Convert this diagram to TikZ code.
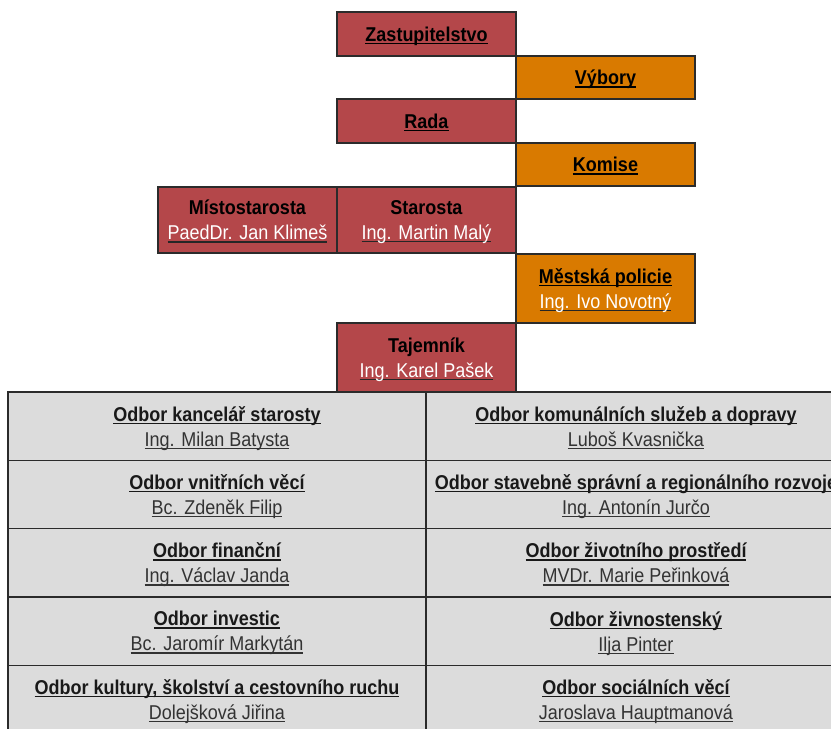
\documentclass[tikz,border=0pt]{standalone}
\usepackage{fontspec}
\setmainfont{Liberation Sans}[FakeStretch=0.9]
\usetikzlibrary{positioning}

\definecolor{radared}{HTML}{B4474A}
\definecolor{komiseorange}{HTML}{D97A00}
\definecolor{odborgray}{HTML}{DCDCDC}
\definecolor{rimline}{HTML}{2B2B2B}
\definecolor{nametext}{HTML}{333333}

\newsavebox\ulbox
% underlined text: [colour of the line]{text}
\newcommand\ulin[2][black]{\sbox\ulbox{#2}\rlap{\color{#1}\rule[-3pt]{\wd\ulbox}{1.5pt}}\usebox\ulbox}

\tikzset{
  organ/.style={draw=rimline, line width=1.3pt, inner sep=0pt, outer sep=0pt,
    minimum width=179pt, align=center, text depth=0pt,
    font=\fontsize{20}{25}\selectfont\bfseries},
  redbox/.style={organ, fill=radared},
  orangebox/.style={organ, fill=komiseorange},
  odbor/.style={draw=rimline, line width=1.3pt, fill=odborgray, inner sep=0pt,
    outer sep=0pt, minimum height=68.3pt, align=center, text depth=0pt,
    font=\fontsize{20}{25}\selectfont},
}
\newcommand\person[1]{\ulin[black!85]{\mdseries\color{white}#1}}
\newcommand\dept[2]{{\bfseries\color{black!90}\ulin[black!90]{#1}}\\\ulin[nametext]{\color{nametext}#2}}

\begin{document}
\begin{tikzpicture}[x=1pt, y=-1pt]
    \clip (0,0) rectangle (831,729);
    \fill[white] (0,0) rectangle (831,729);

    % vedeni obce
    \node[redbox, minimum height=44pt] (zast) at (426.5,34) {\ulin{Zastupitelstvo}};
    \node[orangebox, minimum height=43pt] (vybory) at (605.5,77.5) {\ulin{Výbory}};
    \node[redbox, minimum height=44pt] (rada) at (426.5,121) {\ulin{Rada}};
    \node[orangebox, minimum height=43pt] (komise) at (605.5,164.5) {\ulin{Komise}};
    \node[redbox, minimum height=66pt] (starosta) at (426.5,220) {Starosta\\\person{Ing. Martin Malý}};
    \node[redbox, minimum height=66pt] (mistostarosta) at (247.5,220) {Místostarosta\\\person{PaedDr. Jan Klimeš}};
    \node[orangebox, minimum height=69pt] (policie) at (605.5,288.5) {\ulin{Městská policie}\\\person{Ing. Ivo Novotný}};
    \node[redbox, minimum height=69pt] (tajemnik) at (426.5,357.5) {Tajemník\\\person{Ing. Karel Pašek}};

    % odbory
    \node[odbor, minimum width=418pt] (kancelar) at (217,426.15) {\dept{Odbor kancelář starosty}{Ing. Milan Batysta}};
    \node[odbor, minimum width=420pt] (komunal) at (636,426.15) {\dept{Odbor komunálních služeb a dopravy}{Luboš Kvasnička}};
    \node[odbor, minimum width=418pt] (vnitrni) at (217,494.45) {\dept{Odbor vnitřních věcí}{Bc. Zdeněk Filip}};
    \node[odbor, minimum width=420pt] (stavebni) at (636,494.45) {\dept{Odbor stavebně správní a regionálního rozvoje}{Ing. Antonín Jurčo}};
    \node[odbor, minimum width=418pt] (financni) at (217,562.75) {\dept{Odbor finanční}{Ing. Václav Janda}};
    \node[odbor, minimum width=420pt] (zivotni) at (636,562.75) {\dept{Odbor životního prostředí}{MVDr. Marie Peřinková}};
    \node[odbor, minimum width=418pt] (investic) at (217,631.05) {\dept{Odbor investic}{Bc. Jaromír Markytán}};
    \node[odbor, minimum width=420pt] (zivnost) at (636,631.05) {\dept{Odbor živnostenský}{Ilja Pinter}};
    \node[odbor, minimum width=418pt] (kultura) at (217,699.35) {\dept{Odbor kultury, školství a cestovního ruchu}{Dolejšková Jiřina}};
    \node[odbor, minimum width=420pt] (socialni) at (636,699.35) {\dept{Odbor sociálních věcí}{Jaroslava Hauptmanová}};
\end{tikzpicture}
\end{document}
